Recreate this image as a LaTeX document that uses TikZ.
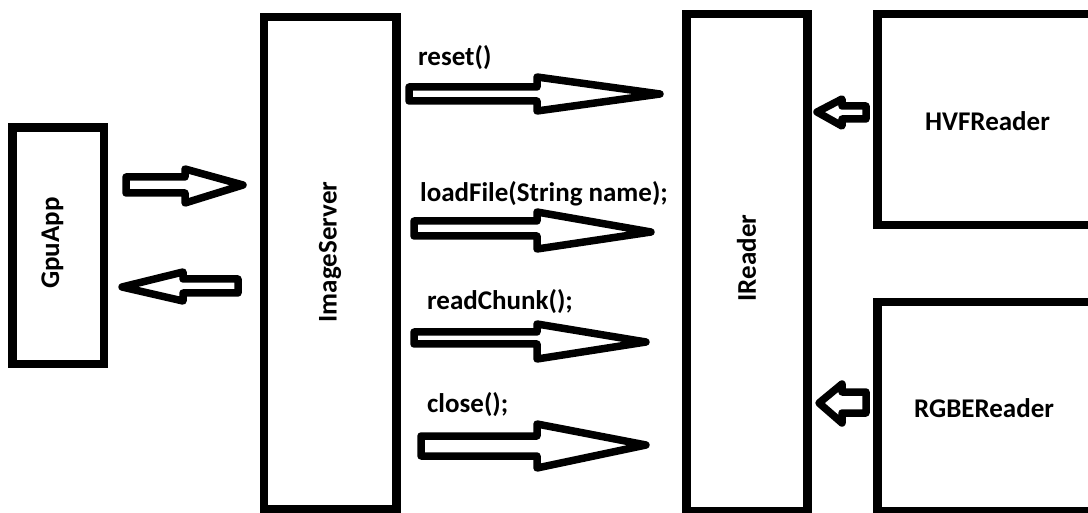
\documentclass[tikz,border=0pt]{standalone}
\usepackage{fontspec}
\setmainfont{Carlito}
\begin{document}
\begin{tikzpicture}[x=1pt,y=-1pt,
  box/.style={draw,line width=8.5pt,rectangle,inner sep=0pt,outer sep=0pt},
  blk/.style={draw,line width=7.5pt,line join=round},
  lbl/.style={font=\bfseries\fontsize{27}{32}\selectfont,inner sep=0pt}]
\useasboundingbox (0,0) rectangle (1088,513);
\clip (0,0) rectangle (1088,513);
\fill[white] (0,0) rectangle (1088,513);
% boxes
\node[box,minimum width=91.5pt,minimum height=236.5pt] (gpu) at (58.25,245.75) {};
\node[box,minimum width=132.5pt,minimum height=492pt] (server) at (330.25,263) {};
\node[box,minimum width=121pt,minimum height=497pt] (ireader) at (747,262.5) {};
\node[box,minimum width=232.5pt,minimum height=211pt] (hvf) at (993.75,119.5) {};
\node[box,minimum width=232.5pt,minimum height=209pt] (rgbe) at (993.75,406.5) {};
% box texts
\node[lbl,rotate=90] (tgpu) at (52.5,243) {GpuApp};
\node[lbl,rotate=90] (tserver) at (330,252) {ImageServer};
\node[lbl,rotate=90] (tireader) at (746.5,258) {IReader};
\node[lbl] (thvf) at (987.5,121) {HVFReader};
\node[lbl] (trgbe) at (984,408) {RGBEReader};
% method labels
\node[lbl,anchor=base west] (lreset) at (418,66) {reset()};
\node[lbl,anchor=base west] (lload) at (420,202) {loadFile(String name);};
\node[lbl,anchor=base west] (lread) at (427,310) {readChunk();};
\node[lbl,anchor=base west] (lclose) at (427,412) {close();};
% block arrows
\draw[blk] (409,87) -- (537,87) -- (537,77) -- (660,94) -- (537,111) -- (537,101) -- (409,101) -- cycle;
\draw[blk] (414,221) -- (537,221) -- (537,212) -- (651,232) -- (537,249) -- (537,236) -- (414,236) -- cycle;
\draw[blk] (414,332) -- (537,332) -- (537,324) -- (646,342) -- (537,359) -- (537,344) -- (414,344) -- cycle;
\draw[blk] (421,436) -- (537,436) -- (537,424) -- (646,445) -- (537,468) -- (537,456) -- (421,456) -- cycle;
\draw[blk] (126,177) -- (185,177) -- (185,169) -- (243,185) -- (185,203) -- (185,193) -- (126,193) -- cycle;
\draw[blk] (238,279) -- (183,279) -- (183,272) -- (122,287) -- (183,301) -- (183,293) -- (238,293) -- cycle;
\draw[blk] (866,106) -- (842,106) -- (842,99) -- (817,112) -- (842,126) -- (842,119) -- (866,119) -- cycle;
\draw[blk] (866,392) -- (842,392) -- (842,384) -- (819,403) -- (842,423) -- (842,413) -- (866,413) -- cycle;
\end{tikzpicture}
\end{document}
